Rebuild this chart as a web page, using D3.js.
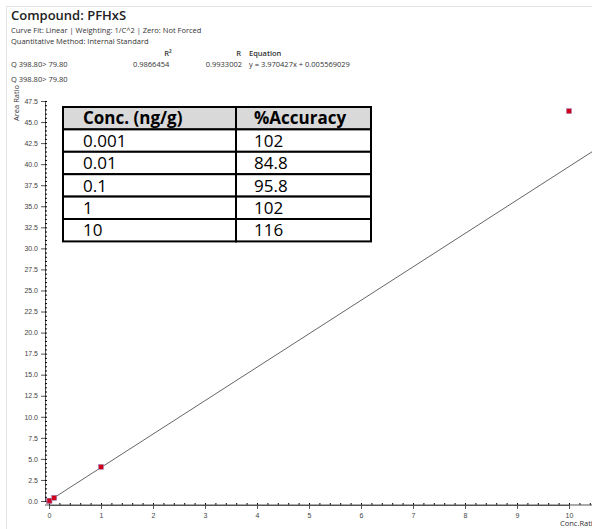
<!DOCTYPE html>
<html><head><meta charset="utf-8">
<script src="https://cdn.jsdelivr.net/npm/d3@7"></script>
<style>
body{margin:0;background:#fff;font-family:"Open Sans","Noto Sans",sans-serif;}
svg text{fill:#333;}
</style></head><body>
<svg id="c" width="592" height="529"></svg>
<script>
const concs = [0.001, 0.01, 0.1, 1, 10];
const areaRatios = [0.004, 0.04, 0.38, 4.05, 46.3];
const accuracy = ["102", "84.8", "95.8", "102", "116"];
const slope = 3.970427, intercept = 0.005569029;
const yTicks = d3.range(0, 47.6, 2.5);
const xTicks = d3.range(0, 11, 1);

const svg = d3.select("#c");
svg.append("rect").attr("x", 6.5).attr("y", 6.5).attr("width", 600).attr("height", 530)
  .attr("fill", "none").attr("stroke", "#e4e4e4");

const x = d3.scaleLinear().domain([0, 10]).range([49, 569]);
const y = d3.scaleLinear().domain([0, 47.5]).range([501, 101]);

svg.append("text").attr("x", 11).attr("y", 20).attr("font-size", 13).attr("font-weight", 600).style("fill", "#222").text("Compound: PFHxS");
svg.append("text").attr("x", 11).attr("y", 33).attr("font-size", 7.5).text("Curve Fit: Linear | Weighting: 1/C^2 | Zero: Not Forced");
svg.append("text").attr("x", 11).attr("y", 44).attr("font-size", 7.5).text("Quantitative Method: Internal Standard");
svg.append("text").attr("x", 168).attr("y", 56).attr("font-size", 7.5).attr("font-weight", 600).attr("text-anchor", "middle").text("R²");
svg.append("text").attr("x", 241).attr("y", 56).attr("font-size", 7.5).attr("font-weight", 600).attr("text-anchor", "end").text("R");
svg.append("text").attr("x", 249).attr("y", 56).attr("font-size", 7.5).attr("font-weight", 600).text("Equation");
svg.append("text").attr("x", 11).attr("y", 67).attr("font-size", 7.5).text("Q 398.80> 79.80");
svg.append("text").attr("x", 133).attr("y", 67).attr("font-size", 7.5).text("0.9866454");
svg.append("text").attr("x", 242).attr("y", 67).attr("font-size", 7.5).attr("text-anchor", "end").text("0.9933002");
svg.append("text").attr("x", 249).attr("y", 67).attr("font-size", 7.5).text("y = 3.970427x + 0.005569029");
svg.append("text").attr("x", 11).attr("y", 82).attr("font-size", 7.5).text("Q 398.80> 79.80");

// axes
const yAx = svg.append("g").attr("transform", "translate(45,0)")
  .call(d3.axisLeft(y).tickValues(yTicks).tickFormat(d3.format(".1f")).tickSize(4));
svg.append("g").attr("transform", "translate(45,0)")
  .call(d3.axisRight(y).tickValues(d3.range(0, 47.6, 0.5)).tickFormat("").tickSize(2))
  .select(".domain").remove();
const xAx = svg.append("g").attr("transform", "translate(0,505)")
  .call(d3.axisBottom(x).tickValues(xTicks).tickFormat(d3.format("d")).tickSize(4));
svg.append("g").attr("transform", "translate(0,505)")
  .call(d3.axisTop(x).tickValues(d3.range(0, 10.6, 0.2)).tickFormat("").tickSize(2))
  .select(".domain").remove();
svg.append("line").attr("x1", 45).attr("x2", 592).attr("y1", 505).attr("y2", 505).attr("stroke", "#555");
[yAx, xAx].forEach(g => { g.selectAll("text").attr("font-size", 7).style("fill", "#444"); g.selectAll("line,path").attr("stroke", "#555"); });
xAx.selectAll("text").attr("dy", "0.9em");
svg.append("text").attr("transform", "translate(19,103) rotate(-90)").attr("font-size", 7.5).attr("text-anchor", "middle").text("Area Ratio");
svg.append("text").attr("x", 560).attr("y", 526).attr("font-size", 7.5).text("Conc.Ratio");

// fit line
svg.append("line").attr("x1", x(0)).attr("y1", y(intercept))
  .attr("x2", x(10.45)).attr("y2", y(slope * 10.45 + intercept)).attr("stroke", "#666").attr("stroke-width", 1);

// points
svg.selectAll(".pt").data(concs).enter().append("rect")
  .attr("x", (d) => x(d) - 2.5).attr("y", (d, i) => y(areaRatios[i]) - 2.5)
  .attr("width", 5).attr("height", 5).attr("fill", "#d0021b").attr("stroke", "#9a8cc8").attr("stroke-width", 0.5);

// table
const tx = 63, tw1 = 173, tw2 = 135, rh = 22.4;
const tbl = svg.append("g");
const rows = [["Conc. (ng/g)", "%Accuracy"]].concat(concs.map((c, i) => [String(c), accuracy[i]]));
rows.forEach((r, i) => {
  const ty = 107 + i * rh;
  tbl.append("rect").attr("x", tx).attr("y", ty).attr("width", tw1).attr("height", rh)
    .attr("fill", i === 0 ? "#d9d9d9" : "#fff").attr("stroke", "#000").attr("stroke-width", 2);
  tbl.append("rect").attr("x", tx + tw1).attr("y", ty).attr("width", tw2).attr("height", rh)
    .attr("fill", i === 0 ? "#d9d9d9" : "#fff").attr("stroke", "#000").attr("stroke-width", 2);
  [r[0], r[1]].forEach((t, j) => {
    tbl.append("text").attr("x", j === 0 ? tx + 20 : tx + tw1 + 18).attr("y", ty + rh - 5)
      .attr("font-size", 17).attr("font-weight", i === 0 ? "bold" : "normal").style("fill", "#000").text(t);
  });
});
</script></body></html>
